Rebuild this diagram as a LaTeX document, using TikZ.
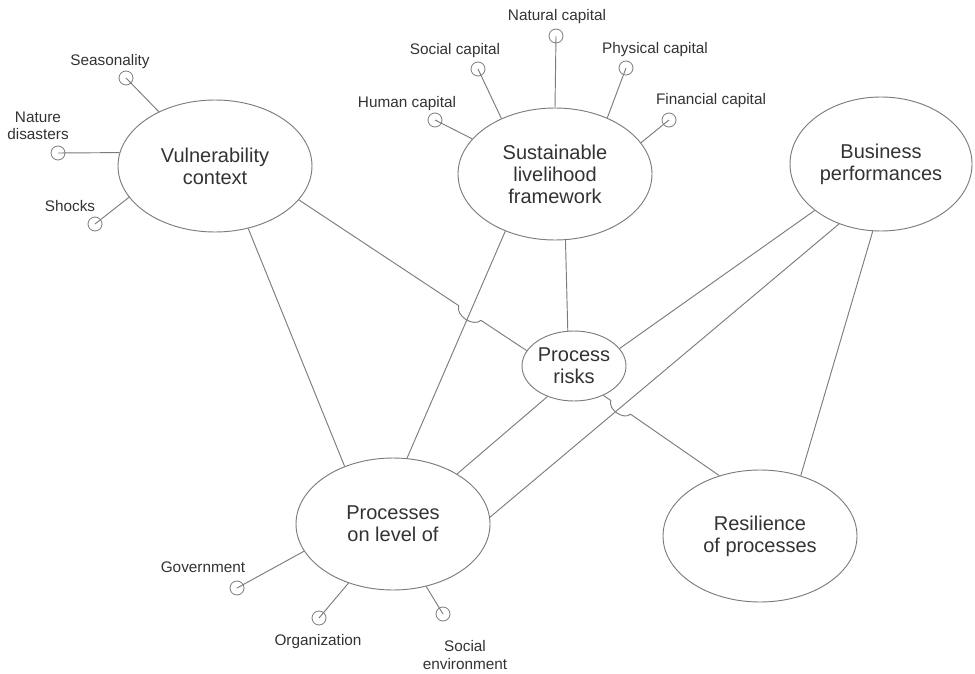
\documentclass[tikz,border=0pt]{standalone}
\usepackage{fontspec}
\setmainfont{Liberation Sans}
\usetikzlibrary{shapes.geometric,calc,intersections}
\definecolor{linegray}{HTML}{7C7C7C}
\definecolor{textgray}{HTML}{333333}
\begin{document}
\begin{tikzpicture}[x=0.75pt,y=0.75pt,
  bigell/.style={ellipse, draw=linegray, line width=0.7pt, inner sep=0pt, align=center,
    font=\fontsize{15}{16.5}\selectfont, text=textgray},
  midell/.style={bigell, minimum width=145.5pt, minimum height=99pt},
  sat/.style={circle, draw=linegray, line width=0.6pt, minimum size=10.5pt, inner sep=0pt},
  lbl/.style={align=center, font=\fontsize{11.5}{13}\selectfont, text=textgray, inner sep=0pt},
  conn/.style={draw=linegray, line width=0.7pt},
  hop/.style={conn, bend right=75}]
\useasboundingbox (0,0) rectangle (975,-674);
\fill[white] (0,0) rectangle (975,-674);

% main ellipses
\node[midell] (vc) at (215,-166) {Vulnerability\\context};
\node[midell] (slf) at (555,-174) {Sustainable\\livelihood\\framework};
\node[bigell, minimum width=136.5pt, minimum height=100.5pt] (bp) at (881,-164) {Business\\performances};
\node[bigell, minimum width=78pt, minimum height=52.5pt] (pr) at (574,-366) {Process\\risks};
\node[midell] (proc) at (393,-524) {Processes\\on level of};
\node[midell] (res) at (760,-536) {Resilience\\of processes};

% satellites of Vulnerability context
\node[sat] (s1) at (126,-78) {};
\node[lbl] (l1) at (110,-62) {Seasonality};
\node[sat] (s2) at (58,-153) {};
\node[lbl] (l2) at (38,-126) {Nature\\disasters};
\node[sat] (s3) at (95,-224) {};
\node[lbl] (l3) at (70,-206) {Shocks};
\draw[conn] (vc.136) -- (s1.center);
\draw[conn] (vc.172) -- (s2.center);
\draw[conn] (vc.200) -- (s3.center);

% satellites of Sustainable livelihood framework
\node[sat] (s4) at (435,-120) {};
\node[lbl] (l4) at (407,-104) {Human capital};
\node[sat] (s5) at (478,-69) {};
\node[lbl] (l5) at (455,-51) {Social capital};
\node[sat] (s6) at (556,-36) {};
\node[lbl] (l6) at (557,-17) {Natural capital};
\node[sat] (s7) at (626,-68) {};
\node[lbl] (l7) at (655,-50) {Physical capital};
\node[sat] (s8) at (669,-120) {};
\node[lbl] (l8) at (711,-101) {Financial capital};
\draw[conn] (slf.157.5) -- (s4.center);
\draw[conn] (slf.134.5) -- (s5.center);
\draw[conn] (slf.90) -- (s6.center);
\draw[conn] (slf.47) -- (s7.center);
\draw[conn] (slf.20) -- (s8.center);

% satellites of Processes on level of
\node[sat] (s9) at (237,-588) {};
\node[lbl] (l9) at (203,-567) {Government};
\node[sat] (s10) at (319,-618) {};
\node[lbl] (l10) at (318,-642) {Organization};
\node[sat] (s11) at (443,-614) {};
\node[lbl] (l11) at (465,-655) {Social\\environment};
\draw[conn] (proc.197) -- (s9.center);
\draw[conn] (proc.233) -- (s10.center);
\draw[conn] (proc.298.7) -- (s11.center);

% connectors
\draw[conn] (vc.-62) -- (proc.130);
\draw[conn] (slf.229.5) -- (proc.78);
\draw[conn] (slf.-81) -- (pr.100);
\draw[conn] (bp.215) -- (pr.21.6);
\draw[conn] (bp.235.2) -- (proc.4);
\draw[conn] (pr.229.5) -- (proc.38.7);
\draw[conn] (bp.263) -- (res.56.7);

% connector with hop: Vulnerability context -> Process risks
\path[name path=pa] (vc.-22) -- (pr.162);
\path[name path=pb] (slf.229.5) -- (proc.78);
\path[name intersections={of=pa and pb, by=xa}];
\draw[conn] (vc.-22) -- ($(xa)!10pt!(vc.-22)$) to[hop] ($(xa)!10pt!(pr.162)$) -- (pr.162);

% connector with hop: Process risks -> Resilience of processes
\path[name path=pc] (pr.-45) -- (res.124.5);
\path[name path=pd] (bp.235.2) -- (proc.4);
\path[name intersections={of=pc and pd, by=xb}];
\draw[conn] (pr.-45) -- ($(xb)!9pt!(pr.-45)$) to[hop] ($(xb)!9pt!(res.124.5)$) -- (res.124.5);
\end{tikzpicture}
\end{document}
